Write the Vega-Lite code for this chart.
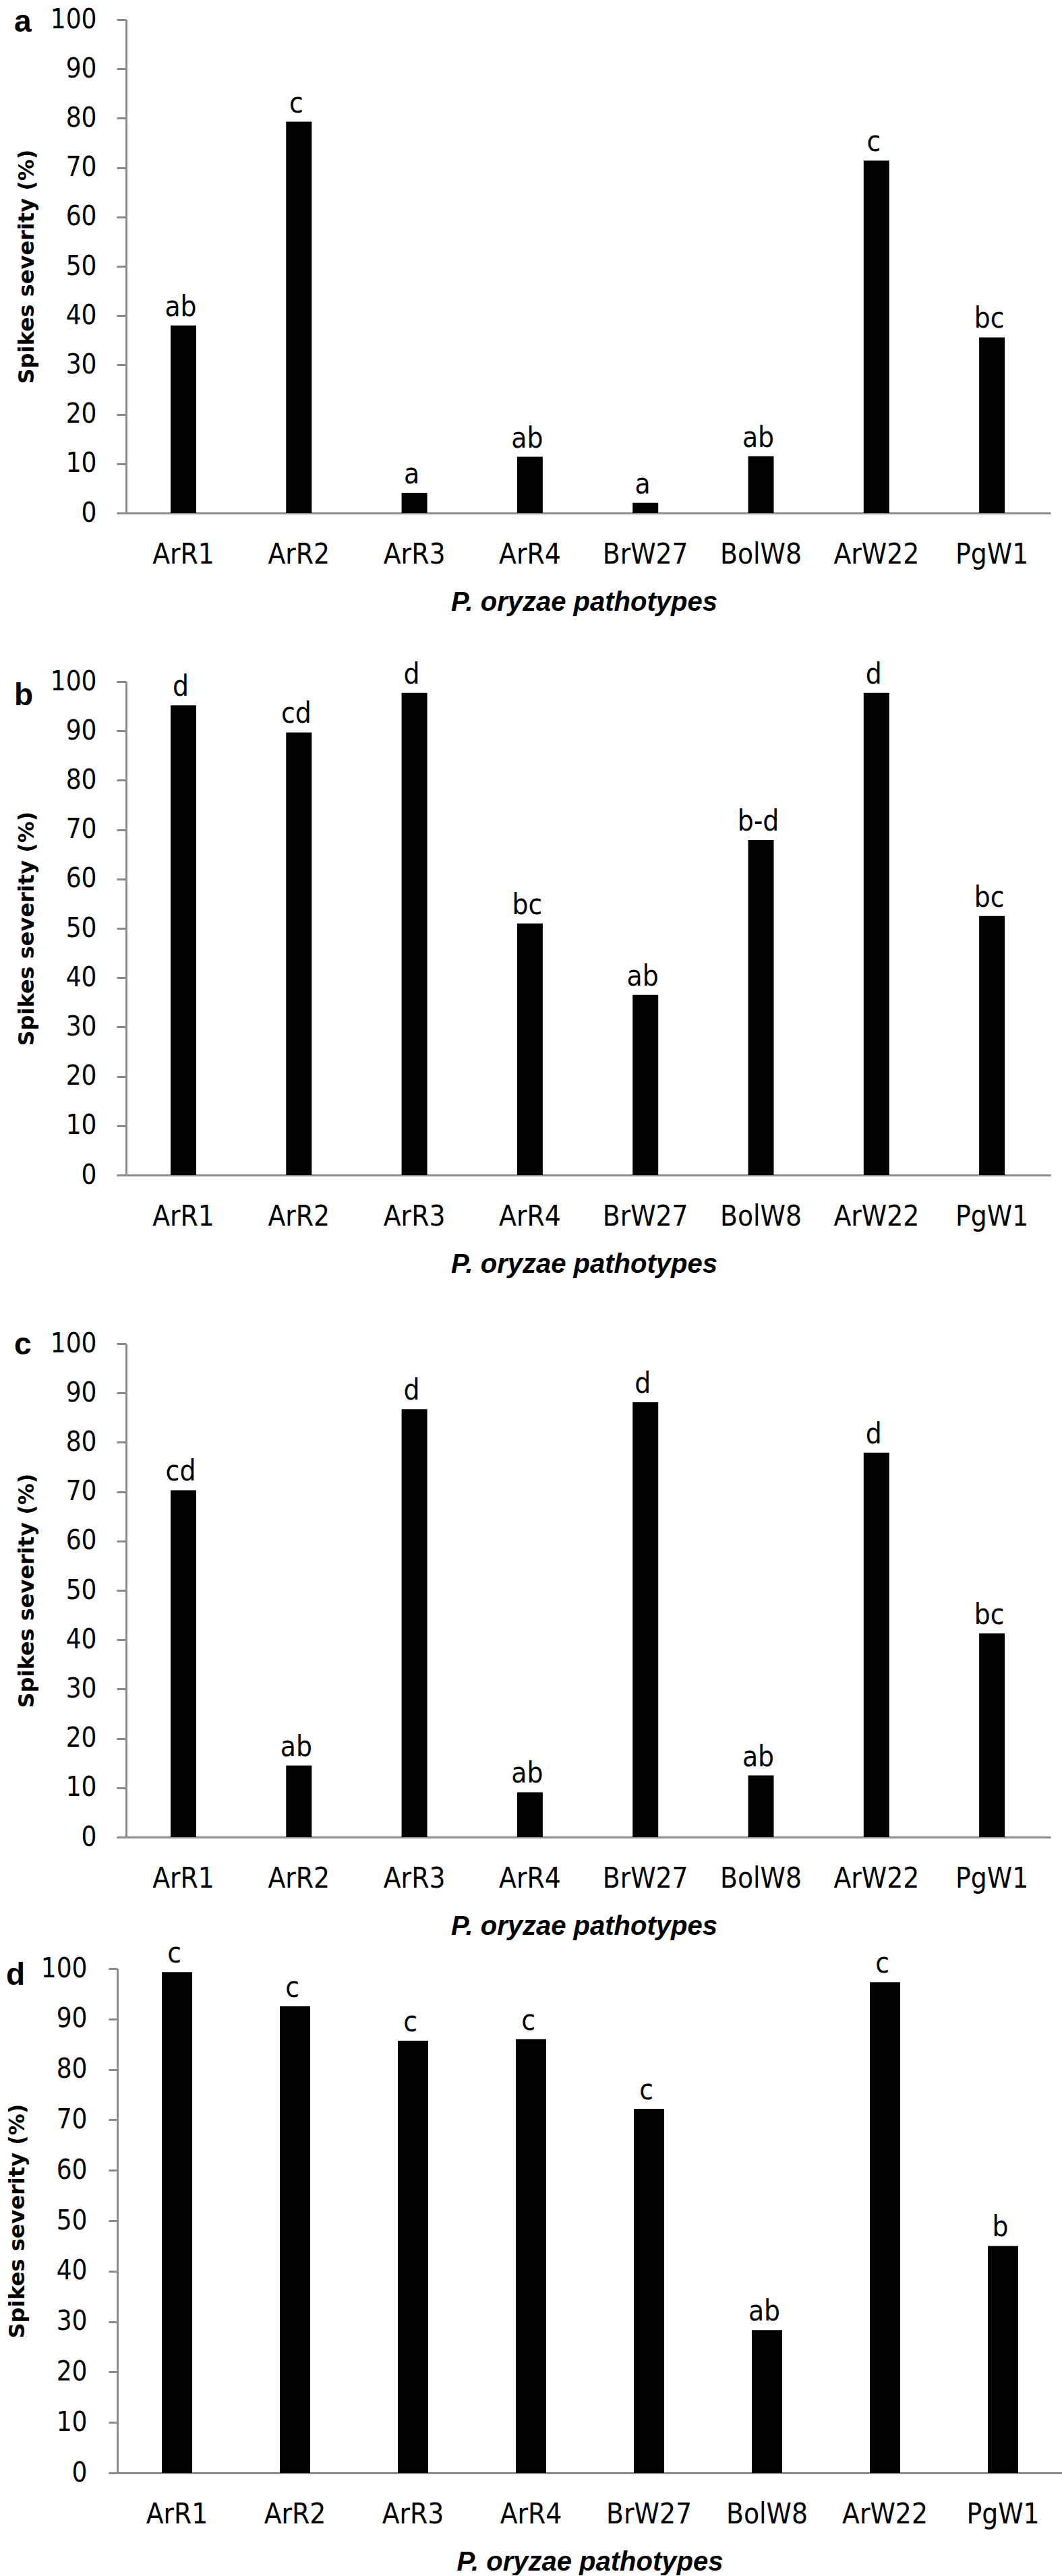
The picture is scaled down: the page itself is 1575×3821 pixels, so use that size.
{
  "$schema": "https://vega.github.io/schema/vega-lite/v6.json",
  "background": "white",
  "padding": {"left": 9, "top": 9, "right": 0, "bottom": 0},
  "bounds": "flush",
  "spacing": 195,
  "config": {
    "view": {"stroke": null},
    "axis": {"domainColor": "#8c8c8c", "domainWidth": 3, "tickColor": "#8c8c8c", "tickWidth": 3, "grid": false, "labelColor": "#000000", "titleColor": "#000000", "labelFont": "DejaVu Sans Condensed"},
    "axisX": {"ticks": false, "tickSize": 0, "labelAngle": 0, "labelFontSize": 42, "labelPadding": 41, "titleFont": "Liberation Sans", "titleFontSize": 40, "titleFontWeight": "bold", "titleFontStyle": "italic", "titlePadding": 30, "labelOverlap": false},
    "axisY": {"tickSize": 14, "labelPadding": 30, "labelFontSize": 40, "titleFont": "DejaVu Sans", "titleFontSize": 32, "titleFontWeight": "bold", "titlePadding": 18, "labelOverlap": false},
    "title": {"font": "Liberation Sans", "fontSize": 46, "fontWeight": "bold", "color": "#000000"}
  },
  "datasets": {
    "pa": [
      {"pathotype": "ArR1", "severity": 38.0, "letter": "ab"},
      {"pathotype": "ArR2", "severity": 79.3, "letter": "c"},
      {"pathotype": "ArR3", "severity": 4.1, "letter": "a"},
      {"pathotype": "ArR4", "severity": 11.4, "letter": "ab"},
      {"pathotype": "BrW27", "severity": 2.1, "letter": "a"},
      {"pathotype": "BolW8", "severity": 11.5, "letter": "ab"},
      {"pathotype": "ArW22", "severity": 71.4, "letter": "c"},
      {"pathotype": "PgW1", "severity": 35.6, "letter": "bc"}
    ],
    "pb": [
      {"pathotype": "ArR1", "severity": 95.2, "letter": "d"},
      {"pathotype": "ArR2", "severity": 89.7, "letter": "cd"},
      {"pathotype": "ArR3", "severity": 97.7, "letter": "d"},
      {"pathotype": "ArR4", "severity": 51.0, "letter": "bc"},
      {"pathotype": "BrW27", "severity": 36.5, "letter": "ab"},
      {"pathotype": "BolW8", "severity": 67.9, "letter": "b-d"},
      {"pathotype": "ArW22", "severity": 97.7, "letter": "d"},
      {"pathotype": "PgW1", "severity": 52.5, "letter": "bc"}
    ],
    "pc": [
      {"pathotype": "ArR1", "severity": 70.3, "letter": "cd"},
      {"pathotype": "ArR2", "severity": 14.5, "letter": "ab"},
      {"pathotype": "ArR3", "severity": 86.7, "letter": "d"},
      {"pathotype": "ArR4", "severity": 9.1, "letter": "ab"},
      {"pathotype": "BrW27", "severity": 88.1, "letter": "d"},
      {"pathotype": "BolW8", "severity": 12.5, "letter": "ab"},
      {"pathotype": "ArW22", "severity": 77.9, "letter": "d"},
      {"pathotype": "PgW1", "severity": 41.3, "letter": "bc"}
    ],
    "pd": [
      {"pathotype": "ArR1", "severity": 99.3, "letter": "c"},
      {"pathotype": "ArR2", "severity": 92.5, "letter": "c"},
      {"pathotype": "ArR3", "severity": 85.7, "letter": "c"},
      {"pathotype": "ArR4", "severity": 86.0, "letter": "c"},
      {"pathotype": "BrW27", "severity": 72.2, "letter": "c"},
      {"pathotype": "BolW8", "severity": 28.3, "letter": "ab"},
      {"pathotype": "ArW22", "severity": 97.3, "letter": "c"},
      {"pathotype": "PgW1", "severity": 45.0, "letter": "b"}
    ]
  },
  "vconcat": [
    {
      "width": 1384, "height": 732,
      "data": {"name": "pa"},
      "title": {"text": "a", "anchor": "start", "frame": "group", "offset": 0, "dx": -153, "dy": 84, "baseline": "alphabetic"},
      "encoding": {
        "x": {"field": "pathotype", "type": "nominal", "sort": null, "title": "P. oryzae pathotypes",
              "scale": {"paddingInner": 0.7782, "paddingOuter": 0.4288, "align": 0.5378}},
        "y": {"field": "severity", "type": "quantitative", "title": "Spikes severity (%)",
              "scale": {"domain": [0, 100], "nice": false},
              "axis": {"values": [0, 10, 20, 30, 40, 50, 60, 70, 80, 90, 100], "offset": -13}}
      },
      "layer": [
        {"mark": {"type": "bar", "color": "#000000"}},
        {"mark": {"type": "text", "baseline": "alphabetic", "dy": -14, "dx": -4, "font": "DejaVu Sans Condensed", "fontSize": 42, "color": "#000000"},
         "encoding": {"text": {"field": "letter"}}}
      ]
    },
    {
      "width": 1384, "height": 787,
      "data": {"name": "pb"},
      "title": {"text": "b", "anchor": "start", "frame": "group", "offset": 0, "dx": -153, "dy": 136, "baseline": "alphabetic"},
      "encoding": {
        "x": {"field": "pathotype", "type": "nominal", "sort": null, "title": "P. oryzae pathotypes",
              "scale": {"paddingInner": 0.7782, "paddingOuter": 0.4288, "align": 0.5378}},
        "y": {"field": "severity", "type": "quantitative", "title": "Spikes severity (%)",
              "scale": {"domain": [0, 100], "nice": false, "rangeMax": 55},
              "axis": {"values": [0, 10, 20, 30, 40, 50, 60, 70, 80, 90, 100], "offset": -13}}
      },
      "layer": [
        {"mark": {"type": "bar", "color": "#000000"}},
        {"mark": {"type": "text", "baseline": "alphabetic", "dy": -14, "dx": -4, "font": "DejaVu Sans Condensed", "fontSize": 42, "color": "#000000"},
         "encoding": {"text": {"field": "letter"}}}
      ]
    },
    {
      "width": 1384, "height": 787,
      "data": {"name": "pc"},
      "title": {"text": "c", "anchor": "start", "frame": "group", "offset": 0, "dx": -153, "dy": 117, "baseline": "alphabetic"},
      "encoding": {
        "x": {"field": "pathotype", "type": "nominal", "sort": null, "title": "P. oryzae pathotypes",
              "scale": {"paddingInner": 0.7782, "paddingOuter": 0.4288, "align": 0.5378}},
        "y": {"field": "severity", "type": "quantitative", "title": "Spikes severity (%)",
              "scale": {"domain": [0, 100], "nice": false, "rangeMax": 55},
              "axis": {"values": [0, 10, 20, 30, 40, 50, 60, 70, 80, 90, 100], "offset": -13}}
      },
      "layer": [
        {"mark": {"type": "bar", "color": "#000000"}},
        {"mark": {"type": "text", "baseline": "alphabetic", "dy": -14, "dx": -4, "font": "DejaVu Sans Condensed", "fontSize": 42, "color": "#000000"},
         "encoding": {"text": {"field": "letter"}}}
      ]
    },
    {
      "width": 1401, "height": 748,
      "data": {"name": "pd"},
      "title": {"text": "d", "anchor": "start", "frame": "group", "offset": 0, "dx": -165, "dy": 113, "baseline": "alphabetic"},
      "encoding": {
        "x": {"field": "pathotype", "type": "nominal", "sort": null, "title": "P. oryzae pathotypes",
              "scale": {"paddingInner": 0.7429, "paddingOuter": 0.3743, "align": 0.504}},
        "y": {"field": "severity", "type": "quantitative", "title": "Spikes severity (%)",
              "scale": {"domain": [0, 100], "nice": false},
              "axis": {"values": [0, 10, 20, 30, 40, 50, 60, 70, 80, 90, 100], "tickSize": 13, "labelPadding": 32}}
      },
      "layer": [
        {"mark": {"type": "bar", "color": "#000000"}},
        {"mark": {"type": "text", "baseline": "alphabetic", "dy": -14, "dx": -4, "font": "DejaVu Sans Condensed", "fontSize": 42, "color": "#000000"},
         "encoding": {"text": {"field": "letter"}}}
      ]
    }
  ]
}
